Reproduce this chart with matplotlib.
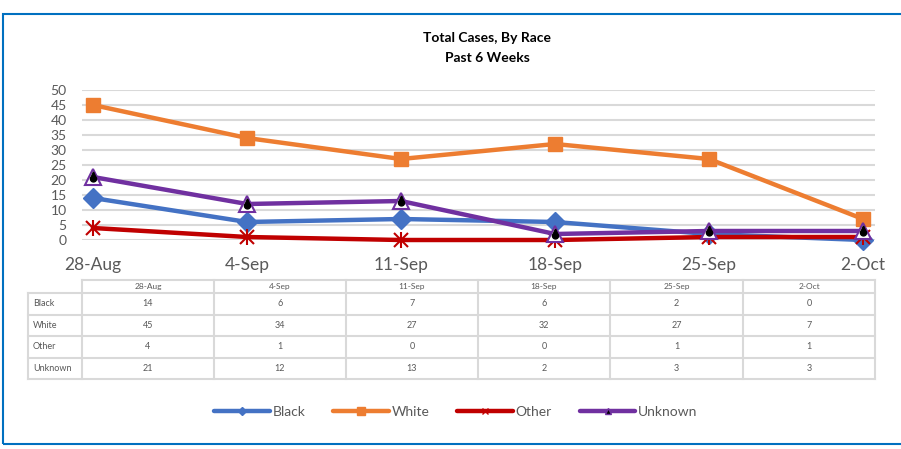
import numpy as np
import matplotlib.pyplot as plt
from matplotlib.lines import Line2D
from matplotlib.patches import Rectangle
from matplotlib.path import Path

"""data"""

weeks   = ['28-Aug', '4-Sep', '11-Sep', '18-Sep', '25-Sep', '2-Oct']
black   = [14, 6, 7, 6, 2, 0]
white   = [45, 34, 27, 32, 27, 7]
other   = [4, 1, 0, 0, 1, 1]
unknown = [21, 12, 13, 2, 3, 3]
names   = ['Black', 'White', 'Other', 'Unknown']

c_black, c_white, c_other, c_unk = '#4472C4', '#ED7D31', '#C00000', '#7030A0'
gray = '#595959'
plt.rcParams['font.family'] = ['Lato', 'DejaVu Sans']

# teardrop marker for the unknown series
drop = [(0, 1.0)] + [(0.55*np.cos(a), -0.25 + 0.55*np.sin(a)) for a in np.linspace(0.25*np.pi, -1.25*np.pi, 30)]
drop_marker = Path(drop + [(0, 1.0)])

"""plot"""

W, H = 901, 449
fig = plt.figure(figsize=(W/100, H/100), dpi=100)

# outer blue frame
fig.add_artist(Rectangle((3/W, 5/H), 1.2, 430/H, transform=fig.transFigure,
                         fill=False, edgecolor='#0070C0', linewidth=1.5))

x0, x1 = 82, 875
ax = fig.add_axes([x0/W, 1-240/H, (x1-x0)/W, 150/H])
x = np.arange(len(weeks))
step = (863-93)/5
ax.set_xlim(-(93-x0)/step, 5 + (x1-863)/step)
ax.set_ylim(0, 50)
ax.set_yticks(np.arange(0, 51, 5))
ax.grid(axis='y', color='#D9D9D9', linewidth=1.5)
ax.set_axisbelow(True)
for s in ax.spines.values():
    s.set_visible(False)
ax.tick_params(axis='y', length=0, labelsize=10, labelcolor=gray, pad=11)
ax.set_xticks(x)
ax.set_xticklabels(weeks)
ax.tick_params(axis='x', length=0, labelsize=12.5, labelcolor=gray, pad=12)

lw = 3.2
ax.plot(x, black, color=c_black, lw=lw, marker='D', ms=10, clip_on=False, zorder=3)
ax.plot(x, white, color=c_white, lw=lw, marker='s', ms=10, clip_on=False, zorder=3)
ax.plot(x, other, color=c_other, lw=lw, marker='x', ms=10, mew=1.5, clip_on=False, zorder=3)
ax.plot(x, other, ls='none', color=c_other, marker='|', ms=11, mew=1.5, clip_on=False, zorder=3)
ax.plot(x, unknown, color=c_unk, lw=lw, marker='^', ms=11, mfc='white', mec=c_unk, mew=1.5,
        clip_on=False, zorder=4)
ax.plot(x, unknown, ls='none', marker=drop_marker, ms=8, color='black', clip_on=False, zorder=5)

fig.text(487/W, 1-38/H, 'Total Cases, By Race', ha='center', va='center',
         fontsize=10, fontweight='bold')
fig.text(487/W, 1-58/H, 'Past 6 Weeks', ha='center', va='center',
         fontsize=10, fontweight='bold')

"""data table"""

cols = [82, 214, 346, 478, 610, 743, 875]
rows = [280, 293, 314.5, 336, 357.5, 379]
lc = '#D9D9D9'
def fx(px): return px/W
def fy(py): return 1-py/H
for i in range(len(cols)):
    fig.add_artist(Line2D([fx(cols[i])]*2, [fy(rows[0]), fy(rows[-1])], color=lc, lw=1.5))
fig.add_artist(Line2D([fx(28)]*2, [fy(rows[1]), fy(rows[-1])], color=lc, lw=1.5))
fig.add_artist(Line2D([fx(82), fx(875)], [fy(rows[0])]*2, color=lc, lw=1.5))
for r in rows[1:]:
    fig.add_artist(Line2D([fx(28), fx(875)], [fy(r)]*2, color=lc, lw=1.5))
for j, w in enumerate(weeks):
    fig.text(fx((cols[j]+cols[j+1])/2), fy((rows[0]+rows[1])/2), w, ha='center', va='center',
             fontsize=6, color=gray)
for i, (nm, vals) in enumerate(zip(names, [black, white, other, unknown])):
    yc = fy((rows[i+1]+rows[i+2])/2)
    fig.text(fx(33), yc, nm, ha='left', va='center', fontsize=6.5, color=gray)
    for j, v in enumerate(vals):
        fig.text(fx((cols[j]+cols[j+1])/2), yc, str(v), ha='center', va='center',
                 fontsize=6.5, color=gray)

"""legend"""

handles = [
    Line2D([], [], color=c_black, lw=lw, marker='D', ms=4, solid_capstyle='round'),
    Line2D([], [], color=c_white, lw=lw, marker='s', ms=6, solid_capstyle='round'),
    Line2D([], [], color=c_other, lw=lw, marker='x', ms=4, mew=1, solid_capstyle='round'),
    Line2D([], [], color=c_unk, lw=lw, marker='^', ms=5, mfc='black', mec=c_unk, solid_capstyle='round'),
]
leg = fig.legend(handles, names, loc='center', bbox_to_anchor=(456/W, 1-412/H), ncol=4,
                 frameon=False, fontsize=10, handlelength=4, handletextpad=0.2,
                 columnspacing=2.0, labelcolor=gray)

fig.savefig('out.png', dpi=100)
